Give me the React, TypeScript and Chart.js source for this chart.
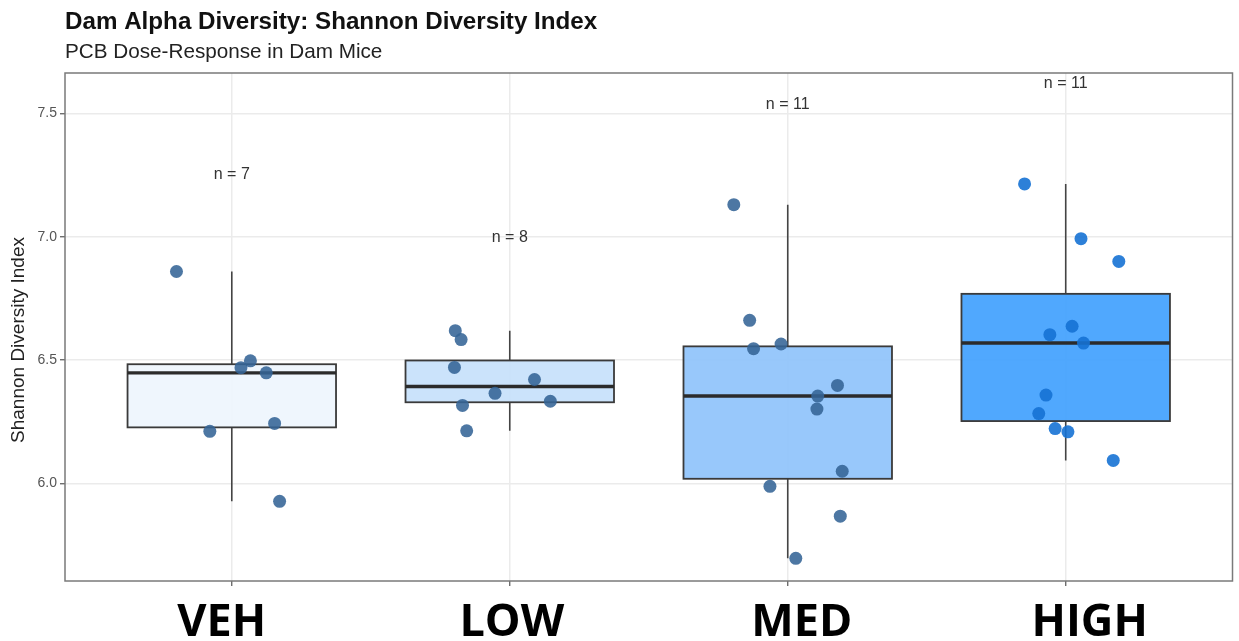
import React, { useEffect, useRef } from 'react';
import { Chart, registerables } from 'chart.js';

Chart.register(...registerables);

const categories = ['VEH', 'LOW', 'MED', 'HIGH'];
const vehValues = [6.859, 6.497, 6.469, 6.448, 6.243, 6.211, 5.927];
const vehJitter = [-0.199, 0.067, 0.033, 0.124, 0.154, -0.079, 0.172];
const lowValues = [6.619, 6.583, 6.47, 6.421, 6.365, 6.333, 6.316, 6.213];
const lowJitter = [-0.196, -0.175, -0.199, 0.089, -0.053, 0.146, -0.17, -0.155];
const medValues = [7.13, 6.661, 6.546, 6.565, 6.397, 6.354, 6.301, 6.049, 5.988, 5.867, 5.696];
const medJitter = [-0.194, -0.137, -0.123, -0.024, 0.179, 0.108, 0.105, 0.196, -0.064, 0.189, 0.029];
const highValues = [7.214, 6.992, 6.9, 6.637, 6.603, 6.569, 6.358, 6.283, 6.222, 6.209, 6.093];
const highJitter = [-0.148, 0.055, 0.191, 0.023, -0.057, 0.064, -0.071, -0.097, -0.038, 0.008, 0.171];
const nLabelY = [7.25, 6.996, 7.535, 7.623];
const yTicks = [6.0, 6.5, 7.0, 7.5];

const groupValues = [vehValues, lowValues, medValues, highValues];
const groupJitter = [vehJitter, lowJitter, medJitter, highJitter];
const boxFills = ['#EEF5FD', '#C8E2FB', '#92C5FB', '#47A3FE'];
const pointColors = [
  'rgba(52,100,150,0.88)',
  'rgba(52,100,150,0.88)',
  'rgba(52,100,150,0.88)',
  'rgba(22,114,212,0.9)',
];
// horizontal nudge (px) of the large category labels, as placed in the reference
const labelNudge = [-10, 2, 14, 24];

function quantile(sorted: number[], p: number) {
  const h = (sorted.length - 1) * p;
  const lo = Math.floor(h);
  const hi = Math.ceil(h);
  return sorted[lo] + (h - lo) * (sorted[hi] - sorted[lo]);
}

function boxStats(values: number[]) {
  const s = [...values].sort((a, b) => a - b);
  const q1 = quantile(s, 0.25);
  const med = quantile(s, 0.5);
  const q3 = quantile(s, 0.75);
  const iqr = q3 - q1;
  const lo = Math.min(...s.filter((v) => v >= q1 - 1.5 * iqr));
  const hi = Math.max(...s.filter((v) => v <= q3 + 1.5 * iqr));
  return { q1, med, q3, lo, hi };
}

const BOX_HALF = 0.375;
const FONT = '"Liberation Sans", Arial, sans-serif';

const customPlugin = {
  id: 'ggbox',
  beforeDatasetsDraw(chart: any) {
    const { ctx, scales } = chart;
    const xs = scales.x;
    const ys = scales.y;
    ctx.save();
    groupValues.forEach((vals, i) => {
      const st = boxStats(vals);
      const cx = xs.getPixelForValue(i + 1);
      const x0 = xs.getPixelForValue(i + 1 - BOX_HALF);
      const x1 = xs.getPixelForValue(i + 1 + BOX_HALF);
      const yq1 = ys.getPixelForValue(st.q1);
      const yq3 = ys.getPixelForValue(st.q3);
      const ymed = ys.getPixelForValue(st.med);
      const ylo = ys.getPixelForValue(st.lo);
      const yhi = ys.getPixelForValue(st.hi);
      ctx.strokeStyle = '#444444';
      ctx.lineWidth = 1.6;
      ctx.beginPath();
      ctx.moveTo(cx, yq3);
      ctx.lineTo(cx, yhi);
      ctx.moveTo(cx, yq1);
      ctx.lineTo(cx, ylo);
      ctx.stroke();
      ctx.globalAlpha = 0.95;
      ctx.fillStyle = boxFills[i];
      ctx.fillRect(x0, yq3, x1 - x0, yq1 - yq3);
      ctx.globalAlpha = 1;
      ctx.strokeStyle = '#3a3a3a';
      ctx.lineWidth = 1.8;
      ctx.strokeRect(x0, yq3, x1 - x0, yq1 - yq3);
      ctx.strokeStyle = '#2b2b2b';
      ctx.lineWidth = 3.4;
      ctx.beginPath();
      ctx.moveTo(x0, ymed);
      ctx.lineTo(x1, ymed);
      ctx.stroke();
    });
    ctx.restore();
  },
  afterDatasetsDraw(chart: any) {
    const { ctx, scales } = chart;
    const xs = scales.x;
    const ys = scales.y;
    ctx.save();
    ctx.fillStyle = '#333333';
    ctx.font = `16px ${FONT}`;
    ctx.textAlign = 'center';
    ctx.textBaseline = 'middle';
    groupValues.forEach((vals, i) => {
      ctx.fillText(`n = ${vals.length}`, xs.getPixelForValue(i + 1), ys.getPixelForValue(nLabelY[i]));
    });
    ctx.restore();
  },
  afterDraw(chart: any) {
    const { ctx, chartArea, scales } = chart;
    ctx.save();
    ctx.strokeStyle = '#7a7a7a';
    ctx.lineWidth = 1.5;
    ctx.strokeRect(chartArea.left, chartArea.top, chartArea.right - chartArea.left, chartArea.bottom - chartArea.top);
    // titles
    ctx.textAlign = 'left';
    ctx.textBaseline = 'alphabetic';
    ctx.fillStyle = '#111111';
    ctx.font = `bold 24.2px ${FONT}`;
    ctx.fillText('Dam Alpha Diversity: Shannon Diversity Index', chartArea.left, 29);
    ctx.fillStyle = '#222222';
    ctx.font = `20.7px ${FONT}`;
    ctx.fillText('PCB Dose-Response in Dam Mice', chartArea.left, 58);
    // y axis title
    ctx.save();
    ctx.translate(19, 340);
    ctx.rotate(-Math.PI / 2);
    ctx.textAlign = 'center';
    ctx.textBaseline = 'middle';
    ctx.fillStyle = '#222222';
    ctx.font = `19px ${FONT}`;
    ctx.fillText('Shannon Diversity Index', 0, 0);
    ctx.restore();
    // category labels
    ctx.textAlign = 'center';
    ctx.textBaseline = 'alphabetic';
    ctx.fillStyle = '#000000';
    ctx.font = 'bold 45px "Open Sans", "Liberation Sans", sans-serif';
    categories.forEach((c, i) => {
      ctx.fillText(c, scales.x.getPixelForValue(i + 1) + labelNudge[i], 636);
    });
    ctx.restore();
  },
};

export default function App() {
  const ref = useRef<HTMLCanvasElement | null>(null);
  useEffect(() => {
    if (!ref.current) return;
    const datasets = groupValues.map((vals, i) => ({
      type: 'scatter' as const,
      label: categories[i],
      data: vals.map((v, j) => ({ x: i + 1 + groupJitter[i][j], y: v })),
      backgroundColor: pointColors[i],
      borderWidth: 0,
      pointRadius: 6.5,
      pointHoverRadius: 6.5,
    }));
    const chart = new Chart(ref.current, {
      type: 'scatter',
      data: { datasets },
      plugins: [customPlugin],
      options: {
        animation: false,
        responsive: false,
        devicePixelRatio: 1,
        events: [],
        layout: { padding: { top: 73, right: 2, bottom: 0, left: 0 } },
        plugins: { legend: { display: false }, tooltip: { enabled: false }, title: { display: false } },
        scales: {
          x: {
            type: 'linear',
            min: 0.4,
            max: 4.6,
            afterBuildTicks: (s: any) => {
              s.ticks = categories.map((_, i) => ({ value: i + 1 }));
            },
            afterFit: (s: any) => {
              s.height = 60;
            },
            border: { display: false },
            grid: { color: '#ebebeb', lineWidth: 1.5, tickLength: 5, tickColor: '#555555', tickWidth: 1.2 },
            ticks: {
              display: false,
              callback: (v: any) => categories[Math.round(Number(v)) - 1] ?? '',
            },
          },
          y: {
            type: 'linear',
            min: 5.604,
            max: 7.664,
            afterBuildTicks: (s: any) => {
              s.ticks = yTicks.map((v) => ({ value: v }));
            },
            afterFit: (s: any) => {
              s.width = 65;
            },
            border: { display: false },
            grid: { color: '#ebebeb', lineWidth: 1.5, tickLength: 5, tickColor: '#555555', tickWidth: 1.2 },
            ticks: {
              padding: 3,
              color: '#555555',
              font: { family: FONT, size: 14 },
              callback: (v: any) => Number(v).toFixed(1),
            },
            title: { display: false },
          },
        },
      },
    } as any);
    return () => chart.destroy();
  }, []);
  return (
    <div style={{ position: 'fixed', left: 0, top: 0, width: 1239, height: 641, background: '#ffffff' }}>
      <canvas ref={ref} width={1239} height={641} style={{ width: 1239, height: 641, display: 'block' }} />
    </div>
  );
}
